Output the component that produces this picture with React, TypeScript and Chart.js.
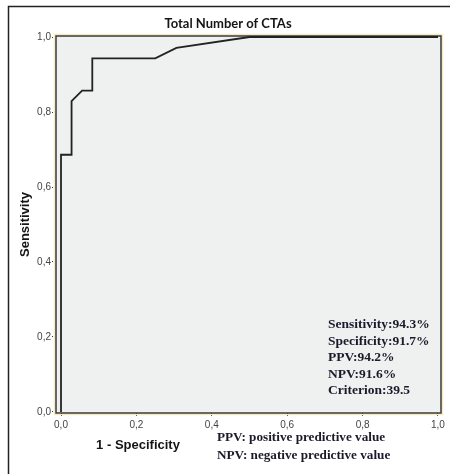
import {useEffect, useRef} from "react";

import {Chart, registerables} from "chart.js";

Chart.register(...registerables);

// ROC curve points (1 - specificity, sensitivity)
const falsePositiveRate = [0, 0, 0.028, 0.028, 0.056, 0.083, 0.083, 0.25, 0.306, 0.5, 1];
const sensitivity = [0, 0.686, 0.686, 0.829, 0.857, 0.857, 0.943, 0.943, 0.971, 1, 1];

const tickValues = [0, 0.2, 0.4, 0.6, 0.8, 1];

const chartTitle = "Total Number of CTAs";
const xTitle = "1 - Specificity";
const yTitle = "Sensitivity";

const statLines = [
  "Sensitivity:94.3%",
  "Specificity:91.7%",
  "PPV:94.2%",
  "NPV:91.6%",
  "Criterion:39.5",
];

const footnotes = ["PPV: positive predictive value", "NPV: negative predictive value"];

const formatTick = (v: number) => v.toFixed(1).replace(".", ",");

const decorPlugin = {
  id: "decor",
  beforeDatasetsDraw(chart: Chart) {
    const {ctx, chartArea: a} = chart;
    ctx.save();
    ctx.fillStyle = "#eff0f0";
    ctx.fillRect(a.left, a.top, a.right - a.left, a.bottom - a.top);
    // pale yellow halo around the plot frame
    ctx.strokeStyle = "#f5ebbd";
    ctx.lineWidth = 1.5;
    ctx.strokeRect(a.left - 1.5, a.top - 1.5, a.right - a.left + 3, a.bottom - a.top + 3);
    ctx.strokeStyle = "#3a3a3a";
    ctx.lineWidth = 1.5;
    ctx.strokeRect(a.left, a.top, a.right - a.left, a.bottom - a.top);
    ctx.restore();
  },
  afterDraw(chart: Chart) {
    const {ctx, chartArea: a} = chart;
    ctx.save();

    // outer figure border (left and top)
    ctx.strokeStyle = "#222";
    ctx.lineWidth = 1.5;
    ctx.beginPath();
    ctx.moveTo(8.5, 474);
    ctx.lineTo(8.5, 6.5);
    ctx.lineTo(450, 6.5);
    ctx.stroke();

    ctx.fillStyle = "#151515";
    ctx.textBaseline = "middle";
    ctx.textAlign = "center";
    ctx.font = "bold 13px Lato";
    ctx.fillText(chartTitle, 228, 24);

    ctx.font = "bold 13px 'Liberation Sans'";
    ctx.fillText(xTitle, 138, 445);

    ctx.save();
    ctx.translate(25, (a.top + a.bottom) / 2);
    ctx.rotate(-Math.PI / 2);
    ctx.fillText(yTitle, 0, 0);
    ctx.restore();

    ctx.textAlign = "left";
    ctx.fillStyle = "#1a1a2a";
    ctx.font = "bold 13.5px 'Liberation Serif'";
    statLines.forEach((line, i) => {
      ctx.fillText(line, 328, 325 + i * 16.5);
    });
    ctx.font = "bold 13.2px 'Liberation Serif'";
    footnotes.forEach((line, i) => {
      ctx.fillText(line, 217, 438 + i * 18);
    });

    ctx.restore();
  },
};

export default function App() {
  const chartRef = useRef<HTMLCanvasElement>(null);
  const chartInstance = useRef<Chart | null>(null);

  useEffect(() => {
    if (!chartRef.current) return;

    if (chartInstance.current) {
      chartInstance.current.destroy();
    }

    const points = falsePositiveRate.map((x, i) => ({x, y: sensitivity[i]}));

    const tickGrid = {
      drawOnChartArea: false,
      drawTicks: true,
      tickLength: 4,
      tickBorderDash: [1, 1],
      tickColor: "#333",
    };

    const ctx = chartRef.current.getContext("2d");
    if (ctx) {
      chartInstance.current = new Chart(ctx, {
        type: "line",
        data: {
          datasets: [
            {
              data: points,
              borderColor: "#222",
              borderWidth: 1.8,
              pointRadius: 0,
              tension: 0,
              fill: false,
            },
          ],
        },
        options: {
          responsive: true,
          maintainAspectRatio: false,
          animation: false,
          layout: {padding: {top: 36, right: 9, left: 0, bottom: 0}},
          scales: {
            x: {
              type: "linear",
              min: -0.0133,
              max: 1.008,
              afterBuildTicks: scale => {
                scale.ticks = tickValues.map(value => ({value}));
              },
              afterFit: scale => {
                scale.height = 61;
              },
              ticks: {
                callback: v => formatTick(Number(v)),
                font: {family: "'Liberation Sans'", size: 10},
                color: "#444",
                padding: 2,
                maxRotation: 0,
              },
              grid: tickGrid,
              border: {display: false},
            },
            y: {
              type: "linear",
              min: -0.00267,
              max: 1.00267,
              afterBuildTicks: scale => {
                scale.ticks = tickValues.map(value => ({value}));
              },
              afterFit: scale => {
                scale.width = 56;
              },
              ticks: {
                callback: v => formatTick(Number(v)),
                font: {family: "'Liberation Sans'", size: 10},
                color: "#444",
                padding: 1,
              },
              grid: tickGrid,
              border: {display: false},
            },
          },
          plugins: {
            legend: {display: false},
            tooltip: {enabled: false},
          },
        },
        plugins: [decorPlugin],
      });
    }

    return () => {
      if (chartInstance.current) {
        chartInstance.current.destroy();
      }
    };
  }, []);

  return (
    <div style={{position: "absolute", left: 0, top: 0, width: 450, height: 474}}>
      <canvas ref={chartRef} />
    </div>
  );
}
